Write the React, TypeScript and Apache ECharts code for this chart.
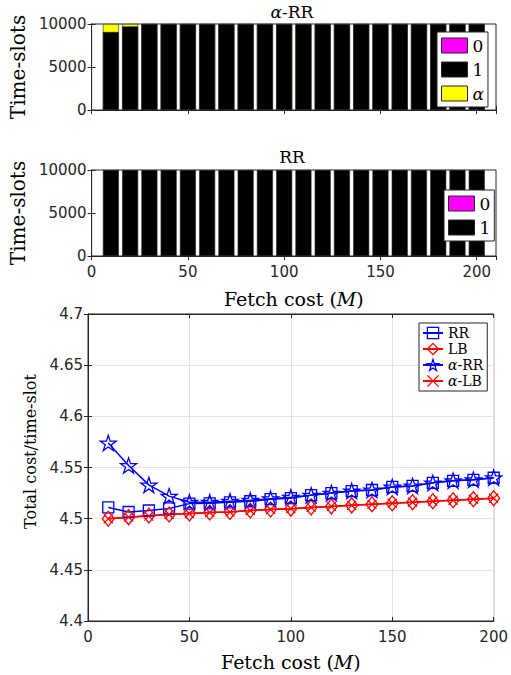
import React, { useEffect, useRef } from 'react';
import * as echarts from 'echarts';

const fetchCost = [10, 20, 30, 40, 50, 60, 70, 80, 90, 100, 110, 120, 130, 140, 150, 160, 170, 180, 190, 200];

// Top: alpha-RR time-slot composition
const alphaRRZero = [0, 0, 0, 0, 0, 0, 0, 0, 0, 0, 0, 0, 0, 0, 0, 0, 0, 0, 0, 0];
const alphaRROne = [9070, 9720, 10000, 10000, 10000, 10000, 10000, 10000, 10000, 10000, 10000, 10000, 10000, 10000, 10000, 10000, 10000, 10000, 10000, 10000];
const alphaRRAlpha = [930, 280, 0, 0, 0, 0, 0, 0, 0, 0, 0, 0, 0, 0, 0, 0, 0, 0, 0, 0];

// Middle: RR time-slot composition
const rrZero = [0, 0, 0, 0, 0, 0, 0, 0, 0, 0, 0, 0, 0, 0, 0, 0, 0, 0, 0, 0];
const rrOne = [10000, 10000, 10000, 10000, 10000, 10000, 10000, 10000, 10000, 10000, 10000, 10000, 10000, 10000, 10000, 10000, 10000, 10000, 10000, 10000];

// Bottom: total cost per time-slot
const rrCost = [4.511, 4.5065, 4.508, 4.510, 4.5147, 4.515, 4.516, 4.517, 4.519, 4.520, 4.523, 4.525, 4.527, 4.528, 4.531, 4.532, 4.535, 4.537, 4.538, 4.540];
const lbCost = [4.500, 4.5015, 4.503, 4.504, 4.505, 4.506, 4.5065, 4.508, 4.509, 4.5098, 4.511, 4.512, 4.513, 4.514, 4.515, 4.516, 4.517, 4.518, 4.519, 4.520];
const alphaRRCost = [4.574, 4.552, 4.533, 4.522, 4.516, 4.516, 4.517, 4.518, 4.5195, 4.521, 4.523, 4.525, 4.527, 4.528, 4.531, 4.532, 4.535, 4.537, 4.538, 4.540];
const alphaLBCost = [4.500, 4.5015, 4.5025, 4.504, 4.505, 4.506, 4.5065, 4.508, 4.509, 4.5098, 4.511, 4.512, 4.513, 4.514, 4.515, 4.516, 4.517, 4.518, 4.519, 4.520];

const barTicks = [0, 5000, 10000];
const costTicks = [4.4, 4.45, 4.5, 4.55, 4.6, 4.65, 4.7];

const AX = '#262626';
const SANS = 'DejaVu Sans';
const SERIF = 'DejaVu Serif';

const STAR = 'path://M10,0 L12.245,6.91 L19.511,6.91 L13.633,11.18 L15.878,18.09 L10,13.82 L4.122,18.09 L6.367,11.18 L0.489,6.91 L7.755,6.91 Z';
const CROSS = 'path://M0,0 L10,10 M10,0 L0,10';

const pairs = (ys: number[]) => fetchCost.map((x, i) => [x, ys[i]]);
// cumulative top of a stacked segment (segments listed bottom to top)
const stackTop = (...layers: number[][]) => fetchCost.map((x, i) => [x, layers.reduce((s, l) => s + l[i], 0)]);

function baseX(grid: number, max: number, labels: boolean, pos: 'bottom' | 'top', grid3 = false, name?: string) {
  return {
    type: 'value', gridIndex: grid, min: 0, max, interval: 50, position: pos,
    axisLine: { show: true, lineStyle: { color: AX, width: 1 } },
    axisTick: { show: true, inside: true, length: 4, lineStyle: { color: AX } },
    axisLabel: { show: labels, showMaxLabel: max === 200, color: AX, fontFamily: SANS, fontSize: 15, margin: 8 },
    splitLine: { show: grid3 && pos === 'bottom', lineStyle: { color: '#e3e3e3', width: 1 } },
    name: name ? 'Fetch cost ({i|M})' : undefined,
    nameLocation: 'middle', nameGap: grid === 2 ? 31 : 33,
    nameTextStyle: { fontFamily: SERIF, fontSize: 19, color: '#000', rich: { i: { fontFamily: SERIF, fontStyle: 'italic', fontSize: 19, color: '#000' } } },
  };
}

function baseY(grid: number, min: number, max: number, interval: number, labels: boolean, pos: 'left' | 'right', grid3 = false, name?: string, nameGap = 60, nameSize = 20, namePad: number[] = [0, 0, 0, 0]) {
  return {
    type: 'value', gridIndex: grid, min, max, interval, position: pos,
    axisLine: { show: true, lineStyle: { color: AX, width: 1 } },
    axisTick: { show: true, inside: true, length: 4, lineStyle: { color: AX } },
    axisLabel: { show: labels, color: AX, fontFamily: SANS, fontSize: 15, margin: 5, formatter: (v: number) => String(Math.round(v * 1000) / 1000) },
    splitLine: { show: grid3 && pos === 'left', lineStyle: { color: '#e3e3e3', width: 1 } },
    name, nameLocation: 'middle', nameGap,
    nameTextStyle: { fontFamily: SERIF, fontSize: nameSize, color: '#000', padding: namePad },
  };
}

export default function App() {
  const ref = useRef<HTMLDivElement>(null);
  useEffect(() => {
    document.body.style.margin = '0';
    if (!ref.current) return;
    const chart = echarts.init(ref.current, undefined, { renderer: 'svg' });
    const barStyle = (color: string) => ({ color, borderColor: AX, borderWidth: 0.6 });
    const lineItem = (c: string) => ({ color: 'rgba(0,0,0,0)', borderColor: c, borderWidth: 1.3 });
    const alphaRich = { a: { fontFamily: SERIF, fontStyle: 'italic' } };
    const bar = (name: string, xi: number, data: number[][], color: string) => ({
      type: 'bar', name, xAxisIndex: xi, yAxisIndex: xi, barWidth: 16, barGap: '-100%', data, itemStyle: barStyle(color),
    });
    chart.setOption({
      animation: false,
      backgroundColor: '#fff',
      grid: [
        { left: 88, right: 15, top: 24, height: 86, show: true, borderColor: AX, borderWidth: 1, backgroundColor: 'transparent' },
        { left: 88, right: 15, top: 170, height: 86, show: true, borderColor: AX, borderWidth: 1, backgroundColor: 'transparent' },
        { left: 88, right: 15, top: 314, height: 307, show: true, borderColor: AX, borderWidth: 1, backgroundColor: 'transparent' },
      ],
      xAxis: [
        baseX(0, 210, false, 'bottom'),
        baseX(0, 210, false, 'top'),
        baseX(1, 210, true, 'bottom', false, 'x'),
        baseX(1, 210, false, 'top'),
        baseX(2, 200, true, 'bottom', true, 'x'),
        baseX(2, 200, false, 'top', true),
      ],
      yAxis: [
        baseY(0, barTicks[0], barTicks[2], 5000, true, 'left', false, 'Time-slots', 60, 20),
        baseY(0, barTicks[0], barTicks[2], 5000, false, 'right'),
        baseY(1, barTicks[0], barTicks[2], 5000, true, 'left', false, 'Time-slots', 60, 20),
        baseY(1, barTicks[0], barTicks[2], 5000, false, 'right'),
        baseY(2, costTicks[0], costTicks[6], 0.05, true, 'left', true, 'Total cost/time-slot', 45, 16, [0, 0, 0, 32]),
        baseY(2, costTicks[0], costTicks[6], 0.05, false, 'right', true),
      ],
      legend: [
        {
          data: ['0', '1', 'α'], orient: 'vertical', left: 437, top: 32, icon: 'rect',
          itemWidth: 26, itemHeight: 15, itemGap: 7, padding: [5, 4, 5, 4],
          borderColor: AX, borderWidth: 1, backgroundColor: '#fff', selectedMode: false,
          itemStyle: { borderColor: AX, borderWidth: 1 },
          formatter: (n: string) => (n === 'α' ? '{a|α}' : n),
          textStyle: { fontFamily: SERIF, fontSize: 17, color: '#000', rich: alphaRich },
        },
        {
          data: ['0', '1'], orient: 'vertical', left: 444, top: 190, icon: 'rect',
          itemWidth: 26, itemHeight: 15, itemGap: 7, padding: [5, 4, 5, 4],
          borderColor: AX, borderWidth: 1, backgroundColor: '#fff', selectedMode: false,
          itemStyle: { borderColor: AX, borderWidth: 1 },
          textStyle: { fontFamily: SERIF, fontSize: 17, color: '#000' },
        },
        {
          data: ['RR', 'LB', 'α-RR', 'α-LB'], orient: 'vertical', left: 419, top: 323,
          itemWidth: 20, itemHeight: 14, itemGap: 2, padding: [3, 4, 3, 3],
          borderColor: AX, borderWidth: 1, backgroundColor: '#fff', selectedMode: false,
          itemStyle: { color: 'rgba(0,0,0,0)', borderWidth: 1.3 },
          formatter: (n: string) => n.replace('α', '{a|α}'),
          textStyle: { fontFamily: SERIF, fontSize: 14, color: '#000', rich: alphaRich },
        },
      ],
      graphic: [
        { type: 'text', x: 292, y: 12, style: { text: '{a|α}-RR', fontFamily: SERIF, fontSize: 17, fill: '#000', align: 'center', verticalAlign: 'middle', rich: { a: { fontFamily: SERIF, fontStyle: 'italic', fontSize: 17 } } } },
        { type: 'text', x: 292, y: 157, style: { text: 'RR', fontFamily: SERIF, fontSize: 17, fill: '#000', align: 'center', verticalAlign: 'middle' } },
      ],
      series: [
        bar('0', 0, stackTop(alphaRRZero), '#ff00ff'),
        bar('α', 0, stackTop(alphaRRZero, alphaRROne, alphaRRAlpha), '#ffff00'),
        bar('1', 0, stackTop(alphaRRZero, alphaRROne), '#000000'),
        bar('0', 2, stackTop(rrZero), '#ff00ff'),
        bar('1', 2, stackTop(rrZero, rrOne), '#000000'),
        { type: 'line', name: 'RR', xAxisIndex: 4, yAxisIndex: 4, data: pairs(rrCost), symbol: 'rect', symbolSize: 11, showAllSymbol: true, lineStyle: { color: '#0000ff', width: 1.5 }, itemStyle: lineItem('#0000ff') },
        { type: 'line', name: 'LB', xAxisIndex: 4, yAxisIndex: 4, data: pairs(lbCost), symbol: 'diamond', symbolSize: [12, 15], showAllSymbol: true, lineStyle: { color: '#ff0000', width: 1.5 }, itemStyle: lineItem('#ff0000') },
        { type: 'line', name: 'α-RR', xAxisIndex: 4, yAxisIndex: 4, data: pairs(alphaRRCost), symbol: STAR, symbolKeepAspect: true, symbolSize: 16, showAllSymbol: true, lineStyle: { color: '#0000ff', width: 1.5 }, itemStyle: lineItem('#0000ff') },
        { type: 'line', name: 'α-LB', xAxisIndex: 4, yAxisIndex: 4, data: pairs(alphaLBCost), symbol: CROSS, symbolSize: 9, showAllSymbol: true, lineStyle: { color: '#ff0000', width: 1.5 }, itemStyle: lineItem('#ff0000') },
      ],
    });
    return () => chart.dispose();
  }, []);
  return <div ref={ref} style={{ width: 511, height: 675 }} />;
}
